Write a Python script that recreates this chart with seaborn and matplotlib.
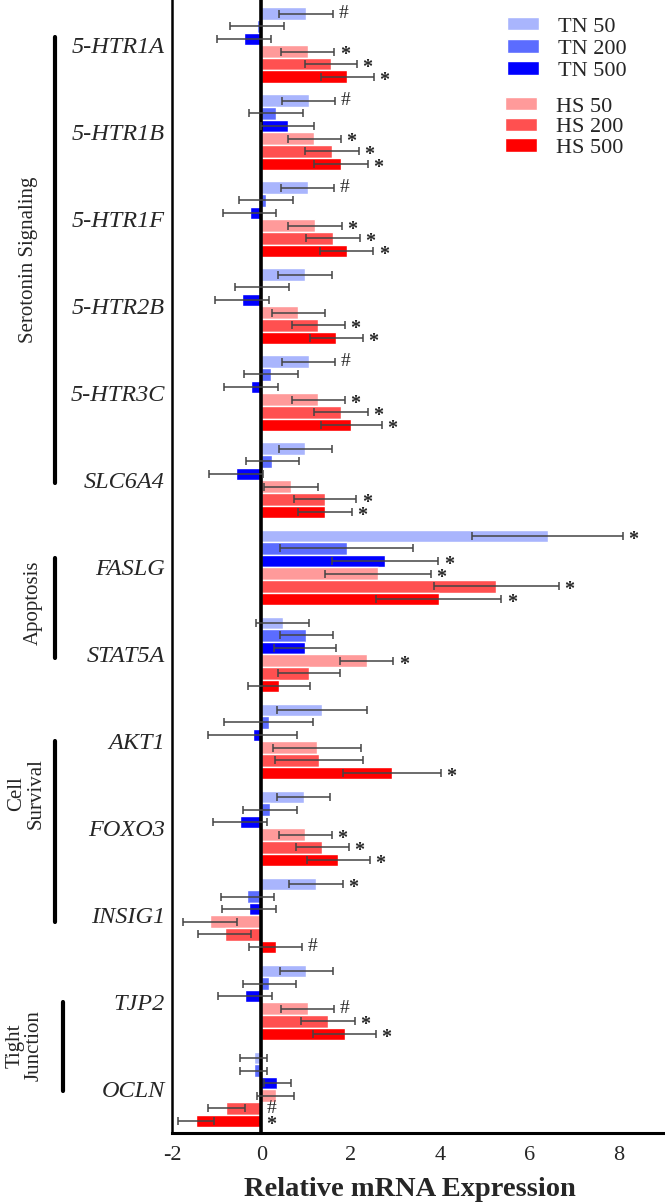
import numpy as np
import pandas as pd
import matplotlib
matplotlib.use('Agg')
import matplotlib.pyplot as plt
import seaborn as sns
from matplotlib.patches import Patch

# Genes (de arriba a abajo) y grupos de tratamiento
genes = ['5-HTR1A', '5-HTR1B', '5-HTR1F', '5-HTR2B', '5-HTR3C', 'SLC6A4',
         'FASLG', 'STAT5A', 'AKT1', 'FOXO3', 'INSIG1', 'TJP2', 'OCLN']
grupos = ['TN 50', 'TN 200', 'TN 500', 'HS 50', 'HS 200', 'HS 500']
colores = ['#a9b5fd', '#5b6cff', '#0000ff', '#ff9a9a', '#ff5050', '#ff0000']

# Medias y errores
tn50_media = [1.00, 1.06, 1.04, 0.98, 1.06, 0.99, 6.42, 0.48, 1.36, 0.95, 1.22, 1.01, -0.17]
tn50_err = [0.61, 0.60, 0.60, 0.60, 0.60, 0.60, 1.69, 0.60, 1.01, 0.60, 0.60, 0.60, 0.30]
tn200_media = [-0.10, 0.33, 0.10, 0.02, 0.22, 0.25, 1.91, 1.01, 0.17, 0.20, -0.31, 0.18, -0.17]
tn200_err = [0.60, 0.60, 0.60, 0.60, 0.60, 0.60, 1.50, 0.60, 1.00, 0.60, 0.60, 0.60, 0.30]
tn500_media = [-0.39, 0.59, -0.26, -0.43, -0.23, -0.56, 2.78, 0.98, -0.19, -0.48, -0.28, -0.36, 0.36]
tn500_err = [0.60, 0.60, 0.60, 0.60, 0.60, 0.60, 1.19, 0.70, 1.00, 0.60, 0.60, 0.60, 0.31]
hs50_media = [1.04, 1.19, 1.20, 0.83, 1.28, 0.66, 2.61, 2.36, 1.25, 0.99, -1.15, 1.04, 0.32]
hs50_err = [0.60, 0.60, 0.60, 0.60, 0.60, 0.60, 1.19, 0.60, 0.99, 0.60, 0.60, 0.60, 0.41]
hs200_media = [1.56, 1.59, 1.61, 1.28, 1.79, 1.43, 5.26, 1.07, 1.29, 1.37, -0.82, 1.49, -0.78]
hs200_err = [0.59, 0.60, 0.60, 0.60, 0.60, 0.70, 1.40, 0.70, 0.99, 0.60, 0.60, 0.60, 0.41]
hs500_media = [1.93, 1.79, 1.91, 1.68, 2.02, 1.43, 3.98, 0.40, 2.93, 1.73, 0.32, 1.87, -1.46]
hs500_err = [0.60, 0.60, 0.60, 0.59, 0.69, 0.60, 1.40, 0.70, 1.10, 0.70, 0.60, 0.70, 0.40]

# Marcas de significación
tn50_sig = ['#', '#', '#', '', '#', '', '*', '', '', '', '*', '', '']
tn200_sig = ['', '', '', '', '', '', '', '', '', '', '', '', '']
tn500_sig = ['', '', '', '', '', '', '*', '', '', '', '', '', '']
hs50_sig = ['*', '*', '*', '', '*', '', '*', '*', '', '*', '', '#', '']
hs200_sig = ['*', '*', '*', '*', '*', '*', '*', '', '', '*', '', '*', '#']
hs500_sig = ['*', '*', '*', '*', '*', '*', '*', '', '*', '*', '#', '*', '*']

medias = [tn50_media, tn200_media, tn500_media, hs50_media, hs200_media, hs500_media]
errores = [tn50_err, tn200_err, tn500_err, hs50_err, hs200_err, hs500_err]
signos = [tn50_sig, tn200_sig, tn500_sig, hs50_sig, hs200_sig, hs500_sig]

filas = []
for g, med in zip(grupos, medias):
    for gen, v in zip(genes, med):
        filas.append({'gen': gen, 'grupo': g, 'valor': v})
df = pd.DataFrame(filas)

sns.set_style('white')
plt.rcParams['font.family'] = ['Liberation Serif', 'DejaVu Serif']
plt.rcParams['axes.unicode_minus'] = False

fig = plt.figure(figsize=(6.65, 12.04), dpi=100)
ax = fig.add_axes([172/665, 1 - 1133/1204, 491/665, 1133/1204])

sns.barplot(data=df, y='gen', x='valor', hue='grupo', order=genes,
            hue_order=grupos, palette=colores, orient='h', width=0.87,
            errorbar=None, legend=False, saturation=1, ax=ax)

# Barras de error y asteriscos (copio la lista antes de añadir errorbars)
contenedores = list(ax.containers)
for hi, cont in enumerate(contenedores):
    for gi, barra in enumerate(cont.patches):
        yc = barra.get_y() + barra.get_height() / 2
        m = medias[hi][gi]
        e = errores[hi][gi]
        ax.errorbar(m, yc, xerr=e, fmt='none', ecolor='#444444',
                    elinewidth=1.1, capsize=3, capthick=1.1, zorder=4)
        s = signos[hi][gi]
        if s:
            xt = max(m + e, 0) + 0.12
            if s == '*':
                ax.text(xt, yc + 0.045, s, fontsize=14.5, fontweight='bold',
                        ha='left', va='center', zorder=5)
            else:
                ax.text(xt, yc, s, fontsize=14, ha='left', va='center', zorder=5)

ax.axvline(0, color='black', lw=2.6, zorder=3)

ax.set_xlim(-2, 9)
ax.set_ylim(12.5, -0.52)
ax.set_xticks([-2, 0, 2, 4, 6, 8])
ax.tick_params(axis='x', length=0, pad=9, labelsize=16)
ax.tick_params(axis='y', length=0, pad=5, labelsize=17.5)
for lbl in ax.get_yticklabels():
    lbl.set_fontstyle('italic')
ax.set_ylabel('')
ax.set_xlabel('Relative mRNA Expression', fontsize=20.5, fontweight='bold')
ax.xaxis.set_label_coords(0.485, -0.039)

sns.despine(ax=ax)
ax.spines['left'].set_linewidth(1.8)
ax.spines['bottom'].set_linewidth(2.2)
ax.spines['left'].set_color('black')
ax.spines['bottom'].set_color('black')

# Etiquetas de grupo con sus líneas
tr = ax.get_yaxis_transform()
lineas = [(-0.238, -0.10, 5.03), (-0.238, 5.89, 7.04), (-0.238, 8.0, 10.07), (-0.222, 11.0, 12.02)]
for xl, y0, y1 in lineas:
    ax.plot([xl, xl], [y0, y1], transform=tr, color='black', lw=3,
            clip_on=False, solid_capstyle='round')

ax.text(-0.293, 2.47, 'Serotonin Signaling', rotation=90, ha='center', va='center',
        fontsize=15, transform=tr)
ax.text(-0.283, 6.41, 'Apoptosis', rotation=90, ha='center', va='center',
        fontsize=15, transform=tr)
ax.text(-0.297, 8.6, 'Cell\nSurvival', rotation=90, ha='center', va='center',
        multialignment='center', fontsize=15, transform=tr, linespacing=1.0)
ax.text(-0.30, 11.5, 'Tight\nJunction', rotation=90, ha='center', va='center',
        multialignment='center', fontsize=15, transform=tr, linespacing=1.0)

# Leyenda en dos bloques
h1 = [Patch(facecolor=c) for c in colores[:3]]
h2 = [Patch(facecolor=c) for c in colores[3:]]
leg1 = ax.legend(h1, grupos[:3], loc='upper left', bbox_to_anchor=(507/665, 1 - 17/1204),
                 bbox_transform=fig.transFigure, frameon=False, fontsize=16,
                 handlelength=1.45, handleheight=0.55, handletextpad=0.85,
                 labelspacing=0.12, borderpad=0, borderaxespad=0)
ax.add_artist(leg1)
ax.legend(h2, grupos[3:], loc='upper left', bbox_to_anchor=(505/665, 1 - 97/1204),
          bbox_transform=fig.transFigure, frameon=False, fontsize=16,
          handlelength=1.45, handleheight=0.55, handletextpad=0.85,
          labelspacing=0.05, borderpad=0, borderaxespad=0)

fig.savefig('out.png', dpi=100)
